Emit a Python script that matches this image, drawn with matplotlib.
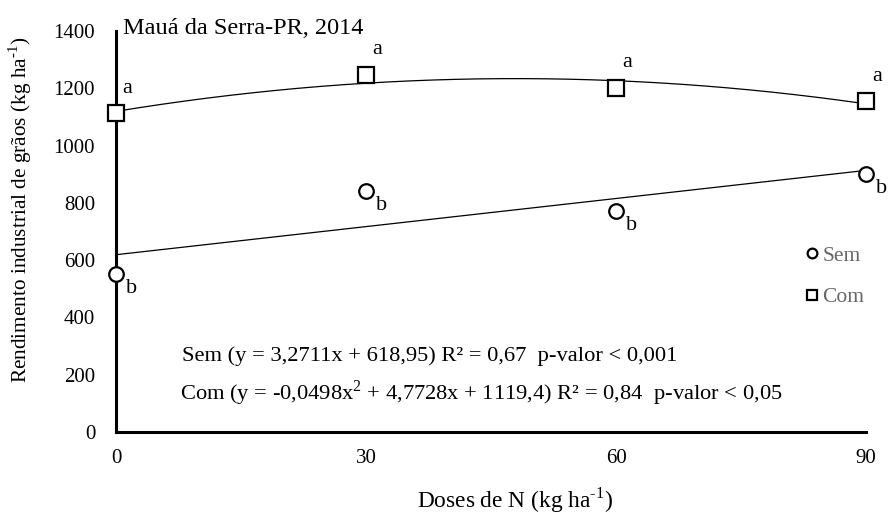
import numpy as np
from matplotlib import pyplot as plt
from matplotlib.lines import Line2D

doses = [0, 30, 60, 90]
sem = [550, 840, 770, 900]
com = [1113, 1248, 1202, 1155]
sem_letters = ['b', 'b', 'b', 'b']
com_letters = ['a', 'a', 'a', 'a']

sem_coef = [3.2711, 618.95]
com_coef = [-0.0498, 4.7728, 1119.4]

plt.rcParams['font.family'] = ['Liberation Serif', 'DejaVu Serif']
plt.rcParams['mathtext.fontset'] = 'custom'
plt.rcParams['mathtext.rm'] = 'Liberation Serif'

fig = plt.figure(figsize=(8.88, 5.16), dpi=100)
ax = fig.add_axes([116/888, 1-432/516, 750/888, 401/516])

xs = np.linspace(0, 90, 200)
ax.plot(xs, np.polyval(sem_coef, xs), color='black', lw=0.9, zorder=2)
ax.plot(xs, np.polyval(com_coef, xs), color='black', lw=0.9, zorder=2)

ax.plot(doses, sem, 'o', ms=10.5, mfc='white', mec='black', mew=1.6, zorder=3, clip_on=False)
ax.plot(doses, com, 's', ms=11.5, mfc='white', mec='black', mew=1.6, zorder=3, clip_on=False)

for x, y, t in zip(doses, com, com_letters):
	ax.annotate(t, (x, y), xytext=(8, 18), textcoords='offset points',
		ha='center', va='center', fontsize=16)
for x, y, t in zip(doses, sem, sem_letters):
	ax.annotate(t, (x, y), xytext=(11, -10), textcoords='offset points',
		ha='center', va='center', fontsize=16)

ax.set_xlim(0, 90)
ax.set_ylim(0, 1400)
ax.set_xticks(doses)
ax.set_yticks(range(0, 1401, 200))
ax.tick_params(length=0, labelsize=15)
ax.tick_params(axis='x', pad=12)
ax.tick_params(axis='y', pad=15)
for s in ['top', 'right']:
	ax.spines[s].set_visible(False)
for s in ['left', 'bottom']:
	ax.spines[s].set_linewidth(2.2)

fig.text(20/888, 1-210/516, 'Rendimento industrial de grãos (kg ha$^{\\text{-1}}$)',
	rotation=90, ha='center', va='center', fontsize=15.3)
fig.text(515/888, 1-500/516, 'Doses de N (kg ha$^{\\text{-1}}$)',
	ha='center', va='center', fontsize=16.8)
ax.text(0.84, 1390, 'Mauá da Serra-PR, 2014', fontsize=17.5, va='baseline')

ax.text(0.088, 0.19, 'Sem (y = 3,2711x + 618,95) R² = 0,67  p-valor < 0,001',
	transform=ax.transAxes, fontsize=16.2, va='center')
ax.text(0.085, 0.097, 'Com (y = -0,0498x$^{\\mathregular{2}}$ + 4,7728x + 1119,4) R² = 0,84  p-valor < 0,05',
	transform=ax.transAxes, fontsize=16.2, va='center')

handles = [Line2D([], [], ls='', marker='o', ms=7, mfc='white', mec='black', mew=1.6),
	Line2D([], [], ls='', marker='s', ms=7.5, mfc='white', mec='black', mew=1.6)]
leg = ax.legend(handles, ['Sem', 'Com'], loc='center left', bbox_to_anchor=(0.919, 0.388),
	frameon=False, fontsize=15.5, handlelength=0.6, handletextpad=0.2,
	labelspacing=1.0, borderpad=0, borderaxespad=0)
for t in leg.get_texts():
	t.set_color('#666666')

fig.savefig('out.png', dpi=100)
